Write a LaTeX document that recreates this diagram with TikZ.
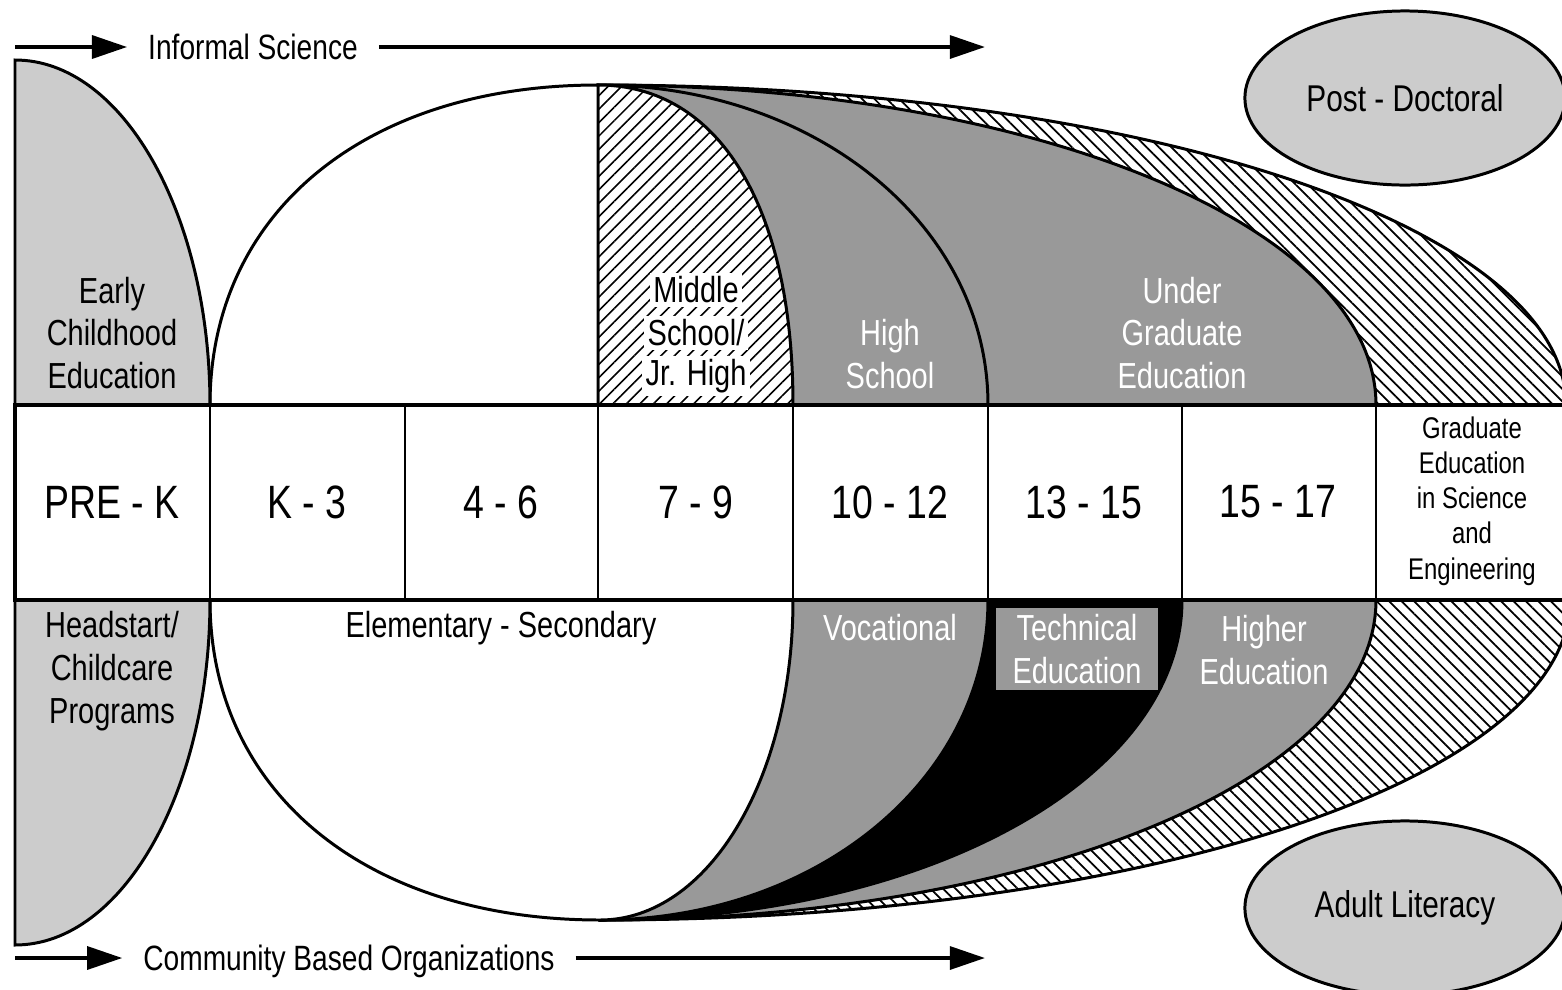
\documentclass[tikz,border=0pt]{standalone}
\usepackage{fontspec}
\setmainfont{Liberation Sans}[FakeStretch=0.8]
\usetikzlibrary{arrows.meta,shapes.geometric,patterns.meta}
\definecolor{LightGrey}{RGB}{204,204,204}
\definecolor{MidGrey}{RGB}{153,153,153}

\begin{document}
\begin{tikzpicture}[x=0.01cm,y=-0.01cm,
  outline/.style={draw=black,line width=0.85pt},
  hatchne/.style={outline,preaction={fill=white},
    pattern={Lines[angle=45,distance=2.7pt,line width=0.45pt]}},
  hatchnw/.style={outline,preaction={fill=white},
    pattern={Lines[angle=-45,distance=2.5pt,line width=0.5pt]}},
  band/.style={draw=black,line width=1.2pt,fill=white},
  lbl/.style={font=\fontsize{10.3}{12.2}\selectfont,align=center,inner sep=1pt},
  wlbl/.style={lbl,text=white},
  cell/.style={font=\fontsize{13.3}{16}\selectfont},
  oval/.style={ellipse,draw,line width=0.85pt,fill=LightGrey,
    minimum width=3.2cm,minimum height=1.74cm,font=\fontsize{10.6}{12}\selectfont},
  flow/.style={line width=1.1pt,-{Triangle[length=10pt,width=6.5pt]}},
  flowtext/.style={font=\fontsize{10}{12}\selectfont,inner sep=0pt,outer xsep=6pt,
    text height=7.2pt,text depth=0pt}
]
\useasboundingbox (0,0) rectangle (1562,990);
\clip (0,0) rectangle (1562,990);

% outer hatched graduate band, top and bottom
\draw[hatchnw] (598,405) -- (598,85) .. controls (1140,85) and (1566,226) .. (1566,405) -- cycle;
\draw[hatchnw] (600,600) -- (1570,600) .. controls (1570,779) and (1143,920) .. (600,920) -- cycle;

% upper half: under graduate, high school, middle school
\draw[outline,fill=MidGrey] (598,405) -- (598,85) .. controls (1034,85) and (1376,226) .. (1376,405) -- cycle;
\draw[outline,fill=MidGrey] (598,405) -- (598,85) .. controls (816,85) and (988,226) .. (988,405) -- cycle;
\draw[hatchne] (598,405) -- (598,85) .. controls (719,85) and (793,207) .. (793,405) -- cycle;

% lower half: higher ed, technical, vocational
\draw[outline,fill=MidGrey] (600,600) -- (1376,600) .. controls (1376,779) and (1035,920) .. (600,920) -- cycle;
\draw[outline,fill=black] (600,600) -- (1182,600) .. controls (1182,779) and (926,920) .. (600,920) -- cycle;
\draw[outline,fill=MidGrey] (600,600) -- (988,600) .. controls (988,779) and (817,920) .. (600,920) -- cycle;

% elementary - secondary
\draw[outline,fill=white] (210,405) .. controls (210,213) and (365,85) .. (598,85) -- (598,405) -- cycle;
\draw[outline,fill=white] (210,600) .. controls (210,792) and (366,920) .. (600,920)
  .. controls (708,920) and (793,779) .. (793,600) -- cycle;

% early childhood
\draw[outline,fill=LightGrey] (15,405) -- (15,60) .. controls (123,60) and (210,215) .. (210,405) -- cycle;
\draw[outline,fill=LightGrey] (15,600) -- (210,600) .. controls (210,790) and (123,945) .. (15,945) -- cycle;

% grade band
\draw[band] (15,405) rectangle (1570,600);
\foreach \x in {210,405,598,793,988,1182,1376}
  \draw[outline] (\x,405) -- (\x,600);

\foreach \x/\t/\n in {112/PRE - K/prek,307/K - 3/kthree,501/4 - 6/gfour,696/7 - 9/gseven,
    890/10 - 12/gten,1084/13 - 15/gthirteen,1278/15 - 17/gfifteen}
  \node[cell] (\n) at (\x,502) {\t};
\node[lbl,font=\fontsize{8.5}{10}\selectfont] (grad) at (1472,501)
  {Graduate\\Education\\in Science\\and\\Engineering};

% labels above the band
\node[lbl] (early) at (112,333) {Early\\Childhood\\Education};
\node[lbl,fill=white] (ms1) at (696,290) {Middle};
\node[lbl,fill=white] (ms2) at (696,333) {School/};
\node[lbl,fill=white] (ms3) at (696,376) {Jr. High};
\node[wlbl] (high) at (890,354) {High\\School};
\node[wlbl] (under) at (1182,333) {Under\\Graduate\\Education};

% labels below the band
\node[lbl] (head) at (112,671) {Headstart/\\Childcare\\Programs};
\node[lbl] (elem) at (501,628) {Elementary - Secondary};
\node[wlbl] (voc) at (890,628) {Vocational};
\node[wlbl,fill=MidGrey,minimum width=1.61cm,minimum height=0.82cm] (tech) at (1077,649) {Technical\\Education};
\node[wlbl] (higher) at (1264,650) {Higher\\Education};

\node[oval] (postdoc) at (1405,98) {Post - Doctoral};
\node[oval] (adult) at (1405,908) {Adult Literacy};

% flows
\coordinate (infL) at (15,47);
\coordinate (infR) at (985,47);
\node[flowtext] (inf) at (253,47) {Informal Science};
\draw[flow] (infL) -- (inf.west);
\draw[flow] (inf.east) -- (infR);

\coordinate (cboL) at (15,958);
\coordinate (cboR) at (985,958);
\node[flowtext] (cbo) at (349,958) {Community Based Organizations};
\draw[flow] (cboL) -- (cbo.west);
\draw[flow] (cbo.east) -- (cboR);
\end{tikzpicture}
\end{document}
